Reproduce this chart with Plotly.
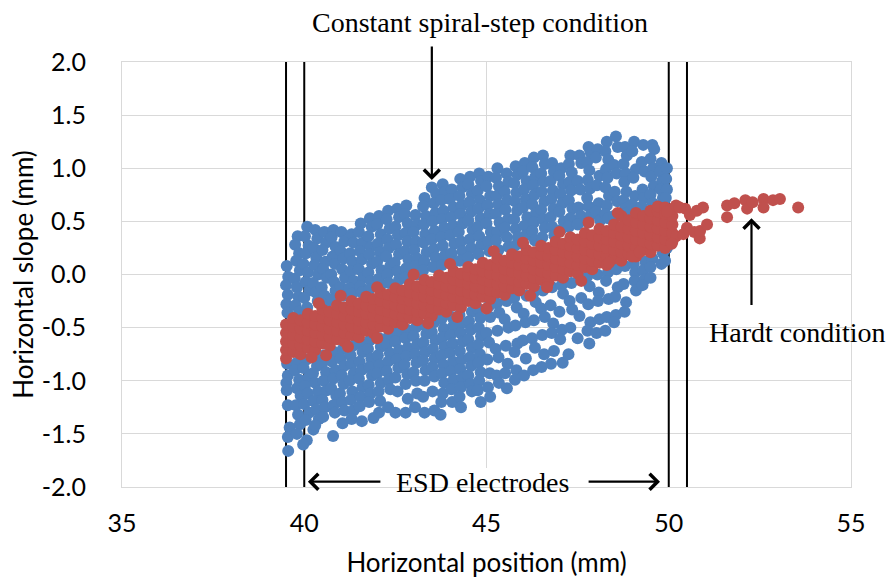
import plotly.graph_objects as go

# ---------------- data ----------------
# Constant spiral-step condition (blue) – points grouped by x column
blue_cols_x = [
    [39.52, 39.56, 39.50, 39.55, 39.51, 39.54, 39.53, 39.55, 39.51, 39.52, 39.55, 39.60, 39.55, 39.56],
    [39.82, 39.75, 39.86, 39.78, 39.88, 39.74, 39.80, 39.84, 39.76, 39.86, 39.80, 39.74, 39.86, 39.80, 39.90, 39.77, 39.83, 39.88, 39.80],
    [40.08, 40.02, 40.12, 40.05, 39.98, 40.10, 40.04, 40.14, 40.00, 40.08, 40.06, 39.98, 40.12, 40.02, 40.10, 40.00, 40.14, 40.04, 40.25, 40.07, 39.97],
    [40.30, 40.36, 40.26, 40.33, 40.28, 40.38, 40.24, 40.32, 40.37, 40.28, 40.35, 40.24, 40.30, 40.38, 40.26, 40.33, 40.40, 40.30],
    [40.55, 40.60, 40.50, 40.58, 40.52, 40.62, 40.48, 40.56, 40.60, 40.55, 40.48, 40.60, 40.53, 40.62, 40.50, 40.57, 40.52],
    [40.80, 40.75, 40.86, 40.78, 40.84, 40.74, 40.82, 40.86, 40.76, 40.82, 40.76, 40.86, 40.80, 40.74, 40.88, 40.80, 40.84, 40.79],
    [41.02, 41.10, 41.00, 41.08, 41.04, 41.12, 41.00, 41.07, 41.06, 41.00, 41.10, 41.03, 41.08, 40.98, 41.05, 41.10, 41.05],
    [41.30, 41.35, 41.26, 41.32, 41.28, 41.36, 41.24, 41.32, 41.34, 41.27, 41.30, 41.36, 41.25, 41.32, 41.28, 41.35, 41.30],
    [41.55, 41.50, 41.60, 41.53, 41.58, 41.50, 41.62, 41.54, 41.58, 41.56, 41.60, 41.52, 41.57, 41.50, 41.60, 41.55, 41.52, 41.58],
    [41.80, 41.85, 41.76, 41.82, 41.78, 41.86, 41.76, 41.83, 41.78, 41.80, 41.75, 41.84, 41.79, 41.86, 41.77, 41.82, 41.78, 41.90],
    [42.05, 42.00, 42.10, 42.02, 42.08, 42.00, 42.12, 42.04, 42.08, 42.06, 42.10, 42.02, 42.07, 42.00, 42.10, 42.04, 42.08, 42.05],
    [42.30, 42.26, 42.34, 42.28, 42.32, 42.25, 42.36, 42.28, 42.32, 42.33, 42.27, 42.35, 42.30, 42.26, 42.32, 42.36, 42.30],
    [42.55, 42.60, 42.50, 42.57, 42.52, 42.60, 42.48, 42.56, 42.60, 42.55, 42.50, 42.60, 42.54, 42.58, 42.50, 42.56, 42.50],
    [42.80, 42.76, 42.84, 42.78, 42.83, 42.76, 42.86, 42.80, 42.76, 42.82, 42.78, 42.84, 42.80, 42.75, 42.83, 42.78, 42.84, 42.78],
    [43.05, 43.10, 43.00, 43.07, 43.02, 43.10, 43.04, 43.08, 43.06, 43.00, 43.10, 43.04, 43.08, 43.00, 43.06, 43.10, 43.04],
    [43.30, 43.26, 43.34, 43.28, 43.32, 43.27, 43.36, 43.30, 43.26, 43.31, 43.35, 43.27, 43.32, 43.26, 43.33, 43.30, 43.26, 43.30],
    [43.50, 43.62, 43.55, 43.60, 43.52, 43.58, 43.50, 43.56, 43.60, 43.54, 43.56, 43.50, 43.60, 43.53, 43.58, 43.52, 43.57, 43.52, 43.57],
    [43.80, 43.86, 43.76, 43.82, 43.78, 43.84, 43.76, 43.80, 43.86, 43.78, 43.76, 43.83, 43.79, 43.85, 43.77, 43.82, 43.78, 43.84, 43.80, 43.76, 43.74],
    [44.05, 44.00, 44.10, 44.03, 44.08, 44.00, 44.12, 44.04, 44.08, 44.06, 44.10, 44.02, 44.07, 44.00, 44.08, 44.03, 44.10, 44.04, 44.06],
    [44.28, 44.34, 44.26, 44.32, 44.28, 44.35, 44.24, 44.30, 44.34, 44.27, 44.26, 44.33, 44.29, 44.35, 44.27, 44.32, 44.28, 44.34, 44.30, 44.26, 44.30],
    [44.55, 44.50, 44.60, 44.53, 44.58, 44.50, 44.62, 44.54, 44.58, 44.50, 44.60, 44.52, 44.57, 44.50, 44.60, 44.54, 44.58, 44.50, 44.56, 44.60],
    [44.80, 44.85, 44.76, 44.82, 44.78, 44.84, 44.76, 44.80, 44.86, 44.78, 44.76, 44.83, 44.79, 44.85, 44.77, 44.82, 44.78, 44.84, 44.80, 44.76, 44.84],
    [45.05, 45.00, 45.10, 45.03, 45.08, 45.00, 45.12, 45.04, 45.08, 45.06, 45.10, 45.00, 45.07, 45.02, 45.09, 45.04, 45.10, 45.00, 45.06, 45.04],
    [45.30, 45.26, 45.34, 45.28, 45.32, 45.26, 45.36, 45.30, 45.26, 45.33, 45.28, 45.35, 45.30, 45.25, 45.33, 45.28, 45.34, 45.30, 45.26, 45.32],
    [45.55, 45.60, 45.50, 45.57, 45.52, 45.59, 45.50, 45.56, 45.60, 45.55, 45.50, 45.60, 45.53, 45.58, 45.51, 45.56, 45.60, 45.52, 45.60],
    [45.80, 45.85, 45.76, 45.82, 45.78, 45.84, 45.76, 45.80, 45.86, 45.78, 45.76, 45.83, 45.79, 45.85, 45.77, 45.82, 45.78, 45.84, 45.80, 45.86],
    [46.05, 46.00, 46.10, 46.03, 46.08, 46.00, 46.12, 46.04, 46.08, 46.00, 46.10, 46.02, 46.07, 46.00, 46.08, 46.03, 46.10, 46.04, 46.00, 46.06],
    [46.30, 46.26, 46.34, 46.28, 46.32, 46.26, 46.36, 46.30, 46.26, 46.33, 46.28, 46.35, 46.30, 46.25, 46.33, 46.28, 46.34, 46.26, 46.20],
    [46.55, 46.60, 46.50, 46.57, 46.52, 46.59, 46.50, 46.56, 46.60, 46.53, 46.55, 46.50, 46.60, 46.53, 46.58, 46.51, 46.56, 46.60, 46.70],
    [46.80, 46.85, 46.76, 46.82, 46.78, 46.84, 46.76, 46.80, 46.86, 46.80, 46.76, 46.83, 46.79, 46.85, 46.77, 46.82, 46.78, 46.93],
    [47.05, 47.00, 47.10, 47.03, 47.08, 47.00, 47.12, 47.04, 47.06, 47.10, 47.00, 47.07, 47.02, 47.09, 47.04, 47.10, 47.10],
    [47.30, 47.26, 47.34, 47.28, 47.32, 47.26, 47.36, 47.30, 47.26, 47.33, 47.28, 47.35, 47.30, 47.25, 47.33, 47.28, 47.33],
    [47.55, 47.60, 47.50, 47.57, 47.52, 47.59, 47.50, 47.56, 47.60, 47.55, 47.50, 47.60, 47.53, 47.58, 47.51, 47.56],
    [47.80, 47.86, 47.76, 47.82, 47.78, 47.84, 47.76, 47.80, 47.86, 47.78, 47.76, 47.83, 47.79, 47.85, 47.77, 47.82, 47.78, 47.82],
    [48.05, 48.00, 48.10, 48.03, 48.08, 48.00, 48.12, 48.04, 48.08, 48.06, 48.10, 48.02, 48.07, 48.00, 48.08, 48.04],
    [48.30, 48.26, 48.34, 48.28, 48.32, 48.26, 48.36, 48.30, 48.26, 48.34, 48.33, 48.28, 48.35, 48.30, 48.26, 48.32, 48.33],
    [48.55, 48.60, 48.50, 48.57, 48.52, 48.59, 48.50, 48.56, 48.60, 48.53, 48.55, 48.50, 48.60, 48.53, 48.58, 48.52, 48.50],
    [48.80, 48.85, 48.76, 48.82, 48.78, 48.84, 48.76, 48.80, 48.86, 48.80, 48.76, 48.83, 48.79, 48.85, 48.80],
    [49.05, 49.00, 49.10, 49.03, 49.08, 49.00, 49.12, 49.04, 49.08, 49.06, 49.10, 49.00, 49.04],
    [49.30, 49.26, 49.34, 49.28, 49.32, 49.26, 49.36, 49.30, 49.33, 49.28, 49.35, 49.28],
    [49.55, 49.60, 49.50, 49.57, 49.52, 49.59, 49.50, 49.56, 49.55, 49.50, 49.50],
    [49.80, 49.76, 49.82, 49.78, 49.84, 49.84, 49.80],
    [49.95, 49.93, 49.95, 49.92, 49.95, 49.90],
]
blue_cols_y = [
    [0.08, -0.02, -0.10, -0.19, -0.28, -0.36, -0.84, -0.95, -1.02, -1.09, -1.23, -1.44, -1.53, -1.66],
    [0.36, 0.28, 0.20, 0.13, 0.04, -0.04, -0.12, -0.21, -0.29, -0.35, -0.83, -0.90, -0.99, -1.07, -1.14, -1.23, -1.32, -1.41, -1.50],
    [0.45, 0.36, 0.27, 0.20, 0.10, 0.02, -0.07, -0.15, -0.22, -0.31, -0.80, -0.88, -0.97, -1.05, -1.12, -1.22, -1.30, -1.37, -1.46, -1.56, -1.60],
    [0.42, 0.34, 0.25, 0.16, 0.09, 0.00, -0.08, -0.17, -0.25, -0.78, -0.86, -0.93, -1.02, -1.10, -1.19, -1.27, -1.36, -1.42],
    [0.40, 0.30, 0.23, 0.12, 0.05, -0.03, -0.12, -0.20, -0.27, -0.76, -0.85, -0.92, -1.00, -1.09, -1.18, -1.25, -1.34],
    [0.42, 0.35, 0.26, 0.17, 0.10, 0.00, -0.07, -0.15, -0.23, -0.73, -0.82, -0.90, -0.98, -1.07, -1.14, -1.23, -1.30, -1.52],
    [0.40, 0.31, 0.22, 0.15, 0.05, -0.03, -0.12, -0.20, -0.70, -0.79, -0.86, -0.95, -1.03, -1.12, -1.20, -1.28, -1.40],
    [0.38, 0.30, 0.20, 0.12, 0.03, -0.06, -0.13, -0.18, -0.67, -0.76, -0.84, -0.93, -1.00, -1.10, -1.18, -1.28, -1.36],
    [0.48, 0.40, 0.30, 0.22, 0.14, 0.05, -0.03, -0.11, -0.17, -0.65, -0.73, -0.82, -0.90, -0.98, -1.06, -1.15, -1.24, -1.38],
    [0.53, 0.45, 0.36, 0.26, 0.19, 0.10, 0.02, -0.06, -0.14, -0.62, -0.70, -0.79, -0.87, -0.95, -1.04, -1.12, -1.20, -1.35],
    [0.55, 0.47, 0.38, 0.29, 0.21, 0.12, 0.04, -0.04, -0.11, -0.60, -0.68, -0.76, -0.85, -0.93, -1.02, -1.10, -1.19, -1.30],
    [0.60, 0.52, 0.43, 0.33, 0.25, 0.17, 0.08, 0.00, -0.08, -0.57, -0.66, -0.74, -0.82, -0.91, -0.99, -1.08, -1.25],
    [0.62, 0.54, 0.45, 0.37, 0.28, 0.19, 0.11, 0.03, -0.05, -0.55, -0.63, -0.71, -0.80, -0.88, -0.97, -1.10, -1.30],
    [0.65, 0.57, 0.48, 0.39, 0.31, 0.22, 0.14, 0.06, -0.03, -0.52, -0.60, -0.69, -0.77, -0.85, -0.94, -1.03, -1.17, -1.30],
    [0.56, 0.47, 0.40, 0.31, 0.23, 0.15, 0.08, 0.00, -0.50, -0.58, -0.66, -0.75, -0.83, -0.92, -1.00, -1.12, -1.25],
    [0.72, 0.64, 0.55, 0.47, 0.38, 0.30, 0.21, 0.12, 0.04, -0.48, -0.56, -0.64, -0.73, -0.81, -0.90, -1.00, -1.15, -1.30],
    [0.82, 0.76, 0.67, 0.58, 0.50, 0.41, 0.33, 0.24, 0.16, 0.07, -0.45, -0.54, -0.62, -0.70, -0.79, -0.87, -0.96, -1.10, -1.28],
    [0.85, 0.78, 0.70, 0.60, 0.52, 0.44, 0.35, 0.27, 0.18, 0.09, -0.42, -0.51, -0.59, -0.68, -0.76, -0.85, -0.93, -1.02, -1.12, -1.20, -1.32],
    [0.80, 0.71, 0.63, 0.54, 0.46, 0.37, 0.29, 0.20, 0.11, -0.40, -0.48, -0.57, -0.65, -0.74, -0.82, -0.91, -0.99, -1.08, -1.20],
    [0.90, 0.82, 0.74, 0.65, 0.57, 0.48, 0.40, 0.31, 0.22, 0.13, -0.38, -0.46, -0.55, -0.63, -0.72, -0.80, -0.89, -0.97, -1.06, -1.15, -1.25],
    [0.92, 0.85, 0.76, 0.68, 0.59, 0.51, 0.42, 0.33, 0.25, 0.16, -0.35, -0.44, -0.52, -0.61, -0.69, -0.78, -0.86, -0.95, -1.03, -1.10],
    [0.95, 0.88, 0.79, 0.70, 0.62, 0.53, 0.45, 0.36, 0.28, 0.19, -0.32, -0.41, -0.50, -0.58, -0.66, -0.75, -0.83, -0.92, -1.00, -1.09, -1.20],
    [0.92, 0.83, 0.74, 0.65, 0.57, 0.48, 0.40, 0.31, 0.22, -0.30, -0.40, -0.55, -0.64, -0.80, -0.93, -1.06, -1.15],
    [1.00, 0.91, 0.83, 0.74, 0.66, 0.57, 0.49, 0.40, 0.32, 0.23, -0.27, -0.36, -0.53, -0.70, -0.78, -0.95, -1.02],
    [0.95, 0.87, 0.78, 0.70, 0.61, 0.52, 0.44, 0.35, 0.26, -0.25, -0.42, -0.50, -0.67, -0.84, -0.93, -1.07],
    [1.02, 0.94, 0.86, 0.77, 0.69, 0.60, 0.52, 0.43, 0.35, 0.27, -0.22, -0.31, -0.48, -0.65, -0.73, -0.90, -0.99],
    [1.05, 0.97, 0.88, 0.80, 0.71, 0.63, 0.54, 0.46, 0.37, 0.29, -0.20, -0.37, -0.45, -0.62, -0.79, -0.95],
    [1.10, 1.01, 0.92, 0.84, 0.75, 0.66, 0.58, 0.49, 0.41, 0.32, -0.18, -0.26, -0.43, -0.60, -0.69, -0.90],
    [1.12, 1.04, 0.95, 0.87, 0.78, 0.69, 0.61, 0.52, 0.44, 0.35, -0.15, -0.32, -0.40, -0.57, -0.75, -0.87],
    [1.05, 0.97, 0.88, 0.79, 0.71, 0.62, 0.54, 0.45, 0.37, -0.12, -0.29, -0.46, -0.55, -0.72, -0.84],
    [1.00, 0.93, 0.85, 0.76, 0.67, 0.59, 0.50, 0.42, -0.10, -0.18, -0.35, -0.52, -0.61, -0.83],
    [1.12, 1.04, 0.96, 0.87, 0.79, 0.70, 0.62, 0.53, 0.45, -0.08, -0.25, -0.33, -0.50, -0.75],
    [1.12, 1.05, 0.88, 0.80, 0.63, 0.55, 0.47, -0.05, -0.22, -0.39, -0.60],
    [1.20, 1.15, 1.06, 0.98, 0.89, 0.81, 0.72, 0.64, 0.56, 0.49, -0.02, -0.11, -0.28, -0.45, -0.53, -0.65],
    [1.18, 1.10, 0.93, 0.84, 0.67, 0.59, 0.51, 0.00, -0.17, -0.25, -0.42, -0.55],
    [1.25, 1.16, 1.08, 0.99, 0.91, 0.82, 0.74, 0.65, 0.57, 0.53, 0.02, -0.06, -0.23, -0.40, -0.53],
    [1.30, 1.20, 1.03, 0.95, 0.78, 0.69, 0.55, 0.05, -0.12, -0.21, -0.38, -0.45],
    [1.20, 1.12, 1.04, 0.95, 0.87, 0.78, 0.70, 0.62, 0.58, 0.08, -0.09, -0.26, -0.35],
    [1.25, 1.16, 0.99, 0.91, 0.74, 0.66, 0.60, 0.10, 0.02, -0.06, -0.15],
    [1.22, 1.06, 0.97, 0.80, 0.72, 0.64, 0.12, 0.04, -0.05, -0.10],
    [1.22, 1.18, 1.09, 1.00, 0.92, 0.83, 0.75, 0.67, 0.15, 0.07, -0.03],
    [1.05, 0.97, 0.88, 0.80, 0.72, 0.20, 0.10],
    [1.00, 0.90, 0.80, 0.72, 0.25, 0.13],
]

# Hardt condition (red) – dense band grouped by x column
red_col_x = [39.5, 39.7, 39.9, 40.1, 40.3, 40.5, 40.7, 40.9, 41.1, 41.3, 41.5, 41.7,
             41.9, 42.1, 42.3, 42.5, 42.7, 42.9, 43.1, 43.3, 43.5, 43.7, 43.9, 44.1,
             44.3, 44.5, 44.7, 44.9, 45.1, 45.3, 45.5, 45.7, 45.9, 46.1, 46.3, 46.5,
             46.7, 46.9, 47.1, 47.3, 47.5, 47.7, 47.9, 48.1, 48.3, 48.5, 48.7, 48.9,
             49.1, 49.3, 49.5, 49.7, 49.9, 50.1]
red_col_y = [
    [-0.79, -0.71, -0.63, -0.55, -0.47],
    [-0.73, -0.65, -0.57, -0.49, -0.41],
    [-0.75, -0.67, -0.59, -0.51, -0.43],
    [-0.69, -0.61, -0.53, -0.45, -0.37],
    [-0.71, -0.63, -0.55, -0.47, -0.39],
    [-0.65, -0.57, -0.49, -0.41, -0.33],
    [-0.67, -0.59, -0.51, -0.43, -0.35],
    [-0.61, -0.53, -0.45, -0.37, -0.29],
    [-0.63, -0.55, -0.47, -0.39, -0.31],
    [-0.57, -0.49, -0.41, -0.33, -0.25],
    [-0.59, -0.51, -0.43, -0.35, -0.27],
    [-0.53, -0.45, -0.37, -0.29, -0.21],
    [-0.55, -0.47, -0.39, -0.31, -0.23],
    [-0.49, -0.41, -0.33, -0.25, -0.17],
    [-0.51, -0.43, -0.35, -0.27, -0.19],
    [-0.45, -0.37, -0.29, -0.21, -0.13],
    [-0.47, -0.39, -0.31, -0.23, -0.15],
    [-0.41, -0.33, -0.25, -0.17, -0.09],
    [-0.43, -0.35, -0.27, -0.19, -0.11],
    [-0.37, -0.29, -0.21, -0.13, -0.05],
    [-0.39, -0.31, -0.23, -0.15, -0.07],
    [-0.33, -0.25, -0.17, -0.09, -0.01],
    [-0.35, -0.27, -0.19, -0.11, -0.03],
    [-0.29, -0.21, -0.13, -0.05, 0.03],
    [-0.31, -0.23, -0.15, -0.07, 0.01],
    [-0.25, -0.17, -0.09, -0.01, 0.07],
    [-0.27, -0.19, -0.11, -0.03, 0.05],
    [-0.21, -0.13, -0.05, 0.03, 0.11],
    [-0.23, -0.15, -0.07, 0.01, 0.09],
    [-0.17, -0.09, -0.01, 0.07, 0.15],
    [-0.19, -0.11, -0.03, 0.05, 0.13],
    [-0.13, -0.05, 0.03, 0.11, 0.19],
    [-0.15, -0.07, 0.01, 0.09, 0.17],
    [-0.09, -0.01, 0.07, 0.15, 0.23],
    [-0.11, -0.03, 0.05, 0.13, 0.21],
    [-0.05, 0.03, 0.11, 0.19, 0.27],
    [-0.07, 0.01, 0.09, 0.17, 0.25],
    [-0.01, 0.07, 0.15, 0.23, 0.31],
    [-0.03, 0.05, 0.13, 0.21, 0.29],
    [0.03, 0.11, 0.19, 0.27, 0.35],
    [0.01, 0.09, 0.17, 0.25, 0.33],
    [0.07, 0.15, 0.23, 0.31, 0.39],
    [0.05, 0.13, 0.21, 0.29, 0.37],
    [0.11, 0.19, 0.27, 0.35, 0.43],
    [0.09, 0.17, 0.25, 0.33, 0.41],
    [0.15, 0.23, 0.31, 0.39, 0.47],
    [0.13, 0.21, 0.29, 0.37, 0.45, 0.55],
    [0.19, 0.27, 0.35, 0.43, 0.51],
    [0.17, 0.25, 0.33, 0.41, 0.49, 0.58],
    [0.23, 0.31, 0.39, 0.47, 0.55],
    [0.21, 0.29, 0.37, 0.45, 0.53, 0.60],
    [0.27, 0.35, 0.43, 0.51, 0.59, 0.64],
    [0.25, 0.33, 0.41, 0.49, 0.57, 0.63],
    [0.31, 0.39, 0.47, 0.55, 0.62],
]
# scattered Hardt points outside the dense band
red_extra_x = [40.2, 40.6, 41.2, 42.0, 43.4, 44.2, 45.0, 46.2, 46.66, 47.6, 48.36, 49.0, 49.2,
               40.4, 41.0, 42.0, 43.0, 44.0, 45.2, 46.0, 47.0, 47.8, 48.6,
               49.95, 50.2, 50.45, 50.58, 50.5, 50.2, 50.4, 50.7, 50.85, 50.08, 50.3,
               50.77, 50.86, 50.94, 51.05, 51.6, 51.6, 51.8, 52.1, 52.15, 52.3, 52.6,
               52.6, 52.86, 53.05, 53.55]
red_extra_y = [-0.78, -0.76, -0.68, -0.6, -0.46, -0.4, -0.32, -0.2, -0.12, -0.06, 0.11, 0.17, 0.21,
               -0.27, -0.2, -0.12, 0.0, 0.1, 0.22, 0.3, 0.4, 0.49, 0.58,
               0.59, 0.65, 0.62, 0.56, 0.44, 0.36, 0.38, 0.40, 0.34, 0.29, 0.63,
               0.60, 0.41, 0.63, 0.47, 0.65, 0.54, 0.67, 0.70, 0.62, 0.68, 0.71,
               0.63, 0.70, 0.71, 0.63]

# electrode / reference vertical lines (mm)
line_positions = [39.5, 40.0, 50.0, 50.5]

# ---------------- build ----------------
blue_x, blue_y = [], []
for xs, ys in zip(blue_cols_x, blue_cols_y):
    for a, b in zip(xs, ys):
        blue_x.append(a)
        blue_y.append(b)

red_x, red_y = [], []
for xc, ys in zip(red_col_x, red_col_y):
    for b in ys:
        red_x.append(xc)
        red_y.append(b)
for a, b in zip(red_extra_x, red_extra_y):
    red_x.append(a)
    red_y.append(b)

BLUE = "#4F81BD"
RED = "#C0504D"
GRID = "#D9D9D9"
SANS = "Lato, 'Liberation Sans', sans-serif"
SERIF = "'Liberation Serif', 'Times New Roman', serif"

fig = go.Figure()
fig.add_trace(go.Scatter(x=blue_x, y=blue_y, mode="markers",
                         marker=dict(color=BLUE, size=12, line=dict(width=0)),
                         name="Constant spiral-step condition", showlegend=False))
fig.add_trace(go.Scatter(x=red_x, y=red_y, mode="markers",
                         marker=dict(color=RED, size=12, line=dict(width=0)),
                         name="Hardt condition", showlegend=False))

for xv in line_positions:
    fig.add_shape(type="line", x0=xv, x1=xv, y0=-2, y1=2, xref="x", yref="y",
                  line=dict(color="black", width=2), layer="between")

# white box behind the "ESD electrodes" label
fig.add_shape(type="rect", x0=40.06, x1=49.94, y0=-2.09, y1=-1.82, xref="x", yref="y",
              fillcolor="white", line=dict(width=0), layer="above")

ann_font = dict(family=SERIF, size=28, color="black")
fig.add_annotation(x=0.491, y=1.094, text="Constant spiral-step condition", showarrow=False,
                   font=ann_font, xref="paper", yref="paper",
                   xanchor="center", yanchor="middle")
fig.add_annotation(x=53.52, y=-0.55, text="Hardt condition", showarrow=False,
                   font=ann_font, xref="x", yref="y", xanchor="center", yanchor="middle")
fig.add_annotation(x=44.9, y=-1.96, text="ESD electrodes", showarrow=False,
                   font=ann_font, xref="x", yref="y", xanchor="center", yanchor="middle")

arrow_kw = dict(text="", showarrow=True, arrowhead=4, arrowsize=1.4, arrowwidth=2.2,
                arrowcolor="black", xref="x", yref="y", axref="x", ayref="y",
                standoff=0, startstandoff=0)
fig.add_annotation(x=43.5, y=0.89, ax=43.5, ay=2.16, **arrow_kw)
fig.add_annotation(x=52.27, y=0.53, ax=52.27, ay=-0.30, **arrow_kw)
fig.add_annotation(x=40.1, y=-1.95, ax=42.13, ay=-1.95, **arrow_kw)
fig.add_annotation(x=49.76, y=-1.95, ax=47.76, ay=-1.95, **arrow_kw)

fig.update_layout(
    width=889, height=578,
    margin=dict(l=122, r=38, t=62, b=91, autoexpand=False),
    paper_bgcolor="white", plot_bgcolor="white",
    showlegend=False,
    font=dict(family=SANS, size=26, color="black"),
)
fig.update_xaxes(
    range=[35, 55], tickvals=[35, 40, 45, 50, 55], ticktext=["35", "40", "45", "50", "55"],
    showgrid=True, gridcolor=GRID, gridwidth=1, zeroline=False,
    showline=True, linecolor=GRID, linewidth=1, mirror=True,
    ticks="", ticklabelstandoff=14, automargin=False,
    tickfont=dict(family=SANS, size=25, color="black"),
    title=dict(text="Horizontal position (mm)", font=dict(family=SANS, size=26, color="black"),
               standoff=20),
)
fig.update_yaxes(
    range=[-2, 2], tickvals=[-2, -1.5, -1, -0.5, 0, 0.5, 1, 1.5, 2],
    ticktext=["-2.0", "-1.5", "-1.0", "-0.5", "0.0", "0.5", "1.0", "1.5", "2.0"],
    showgrid=True, gridcolor=GRID, gridwidth=1, zeroline=False,
    showline=True, linecolor=GRID, linewidth=1, mirror=True,
    ticks="", ticklabelstandoff=30, automargin=False,
    tickfont=dict(family=SANS, size=25, color="black"),
    title=dict(text="Horizontal slope (mm)", font=dict(family=SANS, size=26, color="black"),
               standoff=0),
)

fig.write_html("out.html")
